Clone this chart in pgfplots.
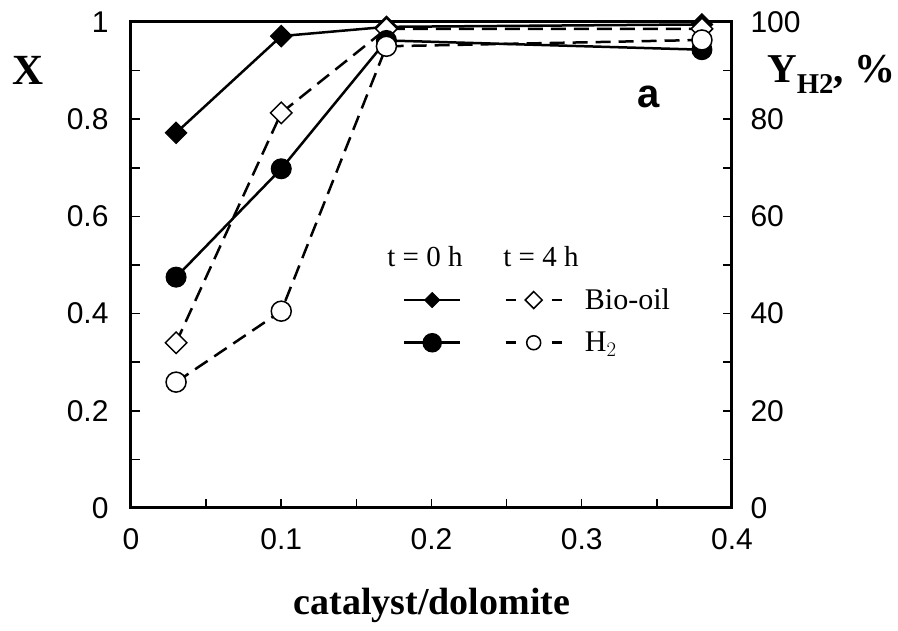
\documentclass[border=0pt]{standalone}
\usepackage{pgfplots}
\pgfplotsset{compat=1.18}
\usepackage{fontspec}
\setmainfont{Liberation Serif}
\newfontfamily\arial{Liberation Sans}

\pgfplotsset{
  base/.style={
    at={(0pt,0pt)}, anchor=south west,
    scale only axis, width=601pt, height=486pt,
    xmin=0, xmax=0.4, clip=false,
    tick align=inside,
    axis line style={line width=3pt},
    tick style={line width=1.5pt, black},
    major tick length=9pt, minor tick length=9pt,
    /pgf/number format/assume math mode=true,
    ticklabel style={font=\arial\fontsize{30}{30}\selectfont},
  },
  sol/.style={line width=2.5pt, black, solid},
  dsh/.style={line width=2.5pt, black, dash pattern=on 15pt off 8pt},
}

\begin{document}
\begin{tikzpicture}
\useasboundingbox (-131pt,-123pt) rectangle (767pt,508pt);

\begin{axis}[base,
  xtick={0,0.1,0.2,0.3,0.4}, xticklabels={0,0.1,0.2,0.3,0.4},
  minor x tick num=1, xtick pos=bottom,
  ymin=0, ymax=1,
  ytick={0,0.2,0.4,0.6,0.8,1}, yticklabels={0,0.2,0.4,0.6,0.8,1},
  minor y tick num=1, ytick pos=left,
  xticklabel style={yshift=-17pt},
  yticklabel style={xshift=-19pt},
]
\addplot[sol, mark=square*, mark size=7.6pt, mark options={rotate=45, fill=black, line width=1pt, solid}]
  coordinates {(0.03,0.772) (0.1,0.971) (0.17,0.990) (0.38,0.995)};
\addplot[dsh, mark=square*, mark size=7.6pt, mark options={rotate=45, fill=white, line width=1.5pt, solid}]
  coordinates {(0.03,0.340) (0.1,0.813) (0.17,0.986) (0.38,0.986)};
\end{axis}

\begin{axis}[base,
  hide x axis,
  ymin=0, ymax=100,
  ytick={0,20,40,60,80,100},
  minor y tick num=1, ytick pos=right,
  yticklabel style={xshift=15pt},
  legend columns=2,
  legend style={draw=none, fill=none, at={(axis cs:0.181,45.5)}, anchor=north west,
    inner sep=0pt, outer sep=0pt, row sep=17pt,
    font=\fontsize{30}{30}\selectfont,
    /tikz/every odd column/.append style={column sep=20pt},
    /tikz/every even column/.append style={column sep=19pt}},
  legend cell align=left,
  legend image code/.code={\draw[mark repeat=2,mark phase=2,#1] plot coordinates {(0pt,0pt) (28pt,0pt) (56pt,0pt)};},
]
\addlegendimage{sol, mark=square*, mark size=5.3pt, mark options={rotate=45, fill=black, line width=1pt, solid}}
\addlegendentry{}
\addlegendimage{line width=2.5pt, black, dash pattern=on 10pt off 36pt on 10pt, mark=square*, mark size=6pt, mark options={rotate=45, fill=white, line width=1.5pt, solid}}
\addlegendentry{Bio-oil}
\addlegendimage{sol, mark=*, mark size=8.5pt, mark options={fill=black, solid}}
\addlegendentry{}
\addlegendimage{line width=2.5pt, black, dash pattern=on 10pt off 36pt on 10pt, mark=*, mark size=7pt, mark options={fill=white, line width=1.5pt, solid}}
\addlegendentry{H$_2$}

\addplot[sol, mark=*, mark size=10pt, mark options={fill=black, line width=1pt, solid}, forget plot]
  coordinates {(0.03,47.5) (0.1,69.8) (0.17,96.2) (0.38,94.3)};
\addplot[dsh, mark=*, mark size=10pt, mark options={fill=white, line width=1.5pt, solid}, forget plot]
  coordinates {(0.03,25.9) (0.1,40.5) (0.17,95.0) (0.38,96.3)};
\end{axis}

\node[anchor=center, font=\bfseries\fontsize{43}{43}\selectfont] at (-103pt,438pt) {X};
\node[anchor=base west, inner sep=0pt, font=\bfseries\fontsize{41}{41}\selectfont] at (636pt,425pt) {Y\textsubscript{H2}, \%};
\node[anchor=base, inner sep=0pt, font=\bfseries\fontsize{38}{38}\selectfont] at (301pt,-107pt) {catalyst/dolomite};
\node[anchor=center, inner sep=0pt] at (518pt,411pt) {\arial\bfseries\fontsize{40}{40}\selectfont a};
\node[anchor=base, inner sep=0pt, font=\fontsize{29}{29}\selectfont] at (294pt,241pt) {t = 0 h};
\node[anchor=base, inner sep=0pt, font=\fontsize{29}{29}\selectfont] at (410pt,241pt) {t = 4 h};
\end{tikzpicture}
\end{document}
